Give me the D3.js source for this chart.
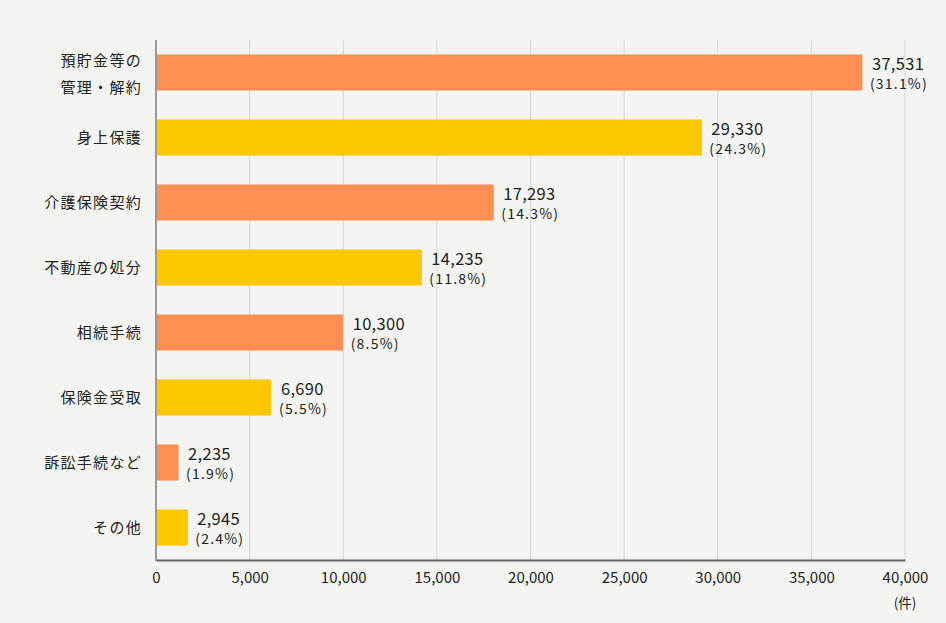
<!DOCTYPE html>
<html><head><meta charset="utf-8">
<script src="https://cdn.jsdelivr.net/npm/d3@7"></script>
<style>
html,body{margin:0;padding:0;background:#f4f5f2;}
svg{display:block;font-family:"Noto Sans CJK JP","Noto Sans",sans-serif;}
</style></head>
<body>
<svg id="chart" width="946" height="623"></svg>
<script>
const categories = [["預貯金等の","管理・解約"],["身上保護"],["介護保険契約"],["不動産の処分"],["相続手続"],["保険金受取"],["訴訟手続など"],["その他"]];
// labelled counts (shown as text)
const values = [37531, 29330, 17293, 14235, 10300, 6690, 2235, 2945];
const barLengths = [37700, 29120, 18010, 14170, 9970, 6140, 1180, 1670];
const percents = ["(31.1%)","(24.3%)","(14.3%)","(11.8%)","(8.5%)","(5.5%)","(1.9%)","(2.4%)"];
const xTicks = [0,5000,10000,15000,20000,25000,30000,35000,40000];
const unitLabel = "(件)";
const colors = ["#ff8f52","#fdc800"];

const svg = d3.select("#chart");
const m = {left:156, right:905, top:40, bottom:560};
const x = d3.scaleLinear().domain([0,40000]).range([m.left,m.right]);
const y = d3.scaleBand().domain(d3.range(values.length)).range([m.top,m.bottom]).paddingInner(0.46).paddingOuter(0.23);

// gridlines
svg.append("g").selectAll("line").data(xTicks.slice(1)).join("line")
  .attr("x1",d=>x(d)).attr("x2",d=>x(d)).attr("y1",m.top).attr("y2",m.bottom)
  .attr("stroke","#d6d6d6").attr("stroke-width",1);

// bars
svg.append("g").selectAll("rect").data(barLengths).join("rect")
  .attr("x",x(0)).attr("y",(d,i)=>y(i))
  .attr("width",d=>x(d)-x(0)).attr("height",y.bandwidth())
  .attr("fill",(d,i)=>colors[i%2])
  .attr("stroke",(d,i)=>i%2?"#f5c000":"#f98a48").attr("stroke-width",0.8);

// value labels
const vl = svg.append("g");
values.forEach((v,i)=>{
  const cx = x(barLengths[i])+10, cy = y(i)+y.bandwidth()/2;
  vl.append("text").attr("x",cx).attr("y",cy-3).attr("font-size",16.5).attr("letter-spacing",0.3).attr("fill","#222")
    .text(d3.format(",")(v));
  vl.append("text").attr("x",cx-2).attr("y",cy+16).attr("font-size",14).attr("letter-spacing",1.2).attr("fill","#222")
    .text(percents[i]);
});

// category labels
const cl = svg.append("g");
categories.forEach((c,i)=>{
  const cy = y(i)+y.bandwidth()/2;
  const t = cl.append("text").attr("text-anchor","end").attr("font-size",15).attr("letter-spacing",1.3).attr("fill","#222");
  if(c.length===1){
    t.append("tspan").attr("x",142).attr("y",cy+5).text(c[0]);
  } else {
    t.append("tspan").attr("x",142).attr("y",cy-7).text(c[0]);
    t.append("tspan").attr("x",142).attr("y",cy+20).text(c[1]);
  }
});

// x axis
const xa = svg.append("g").attr("transform",`translate(0,${m.bottom})`)
  .call(d3.axisBottom(x).tickValues(xTicks).tickFormat(d3.format(",")).tickSize(0).tickPadding(12));
xa.select(".domain").attr("stroke","#666").attr("stroke-width",2);
xa.selectAll("text").attr("font-size",15).attr("fill","#222").attr("font-family",'"Noto Sans CJK JP",sans-serif');

// left axis line
svg.append("line").attr("x1",m.left).attr("x2",m.left).attr("y1",m.top).attr("y2",m.bottom+1)
  .attr("stroke","#999").attr("stroke-width",2);

svg.append("text").attr("x",x(40000)).attr("y",608).attr("text-anchor","middle")
  .attr("font-size",13.5).attr("fill","#222").text(unitLabel);
</script>
</body></html>
